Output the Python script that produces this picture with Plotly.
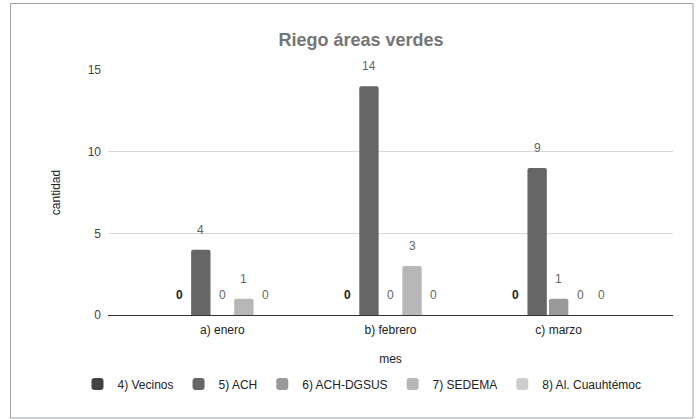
import plotly.graph_objects as go

categories = ["a) enero", "b) febrero", "c) marzo"]
series_names = ["4) Vecinos", "5) ACH", "6) ACH-DGSUS", "7) SEDEMA", "8) Al. Cuauhtémoc"]
vecinos = [0, 0, 0]
ach = [4, 14, 9]
ach_dgsus = [0, 0, 1]
sedema = [1, 3, 0]
cuauhtemoc = [0, 0, 0]
y_ticks = [0, 5, 10, 15]

values = [vecinos, ach, ach_dgsus, sedema, cuauhtemoc]
colors = ["#434343", "#666666", "#999999", "#b7b7b7", "#cccccc"]
label_colors = ["#222222", "#666666", "#666666", "#666666", "#666666"]

FONT = "Arial, 'Liberation Sans', sans-serif"
W, H = 696, 419
ml, mr, mt, mb = 108, 23, 70, 104
pw = W - ml - mr
ph = H - mt - mb
x_range = [-0.68, 2.68]
bargap, bargroupgap = 0.36, 0.1

fig = go.Figure()
for name, vals, col in zip(series_names, values, colors):
    fig.add_trace(go.Bar(
        name=name, x=categories, y=vals,
        marker=dict(color=col, line=dict(width=0)),
        hoverinfo="skip",
    ))

# data labels placed above each bar (offset derived from bar layout)
cat_px = pw / (x_range[1] - x_range[0])
slot_px = cat_px * (1 - bargap) / len(series_names)
for i, (name, vals, lcol) in enumerate(zip(series_names, values, label_colors)):
    for cat, v in zip(categories, vals):
        fig.add_annotation(
            x=cat, y=v, xref="x", yref="y",
            text=f"<b>{v}</b>" if i == 0 else str(v),
            showarrow=False, xshift=(i - (len(series_names) - 1) / 2) * slot_px,
            yshift=20, yanchor="middle",
            font=dict(family=FONT, size=12, color=lcol),
        )

fig.update_layout(
    width=W, height=H,
    margin=dict(l=ml, r=mr, t=mt, b=mb),
    paper_bgcolor="white", plot_bgcolor="white",
    barmode="group", bargap=bargap, bargroupgap=bargroupgap, barcornerradius=2,
    font=dict(family=FONT, size=12, color="#444444"),
    title=dict(text="<b>Riego áreas verdes</b>", x=361 / W, xanchor="center",
               y=1 - 40 / H, yanchor="middle",
               font=dict(size=18, color="#757575")),
    xaxis=dict(range=x_range, showgrid=False, showline=False, ticks="",
               ticklabelstandoff=6,
               title=dict(text="mes", font=dict(size=12, color="#222222"), standoff=18),
               tickfont=dict(size=12, color="#222222")),
    yaxis=dict(range=[0, 15], tickvals=y_ticks, showgrid=True, gridcolor="#d9d9d9",
               gridwidth=1, zeroline=True, zerolinecolor="#333333", zerolinewidth=1,
               showline=False, ticks="", ticklabelstandoff=6,
               title=dict(text="cantidad", font=dict(size=12, color="#222222"), standoff=24),
               tickfont=dict(size=12, color="#444444")),
    legend=dict(orientation="h", x=(362 - ml) / pw, xanchor="center",
                y=-(384 - (H - mb)) / ph, yanchor="middle",
                font=dict(size=12, color="#222222"), itemwidth=30,
                traceorder="normal"),
    showlegend=True,
)

# outer chart border
fig.add_shape(type="rect", xref="paper", yref="paper",
              x0=(10.5 - ml) / pw, x1=(693 - ml) / pw,
              y0=-(418 - (H - mb)) / ph, y1=1 + (mt - 3.5) / ph,
              line=dict(color="#9aa0a6", width=1), fillcolor="rgba(0,0,0,0)", layer="below")

fig.write_html("out.html", config={"displayModeBar": False},
               post_script="document.body.style.margin='0';")
